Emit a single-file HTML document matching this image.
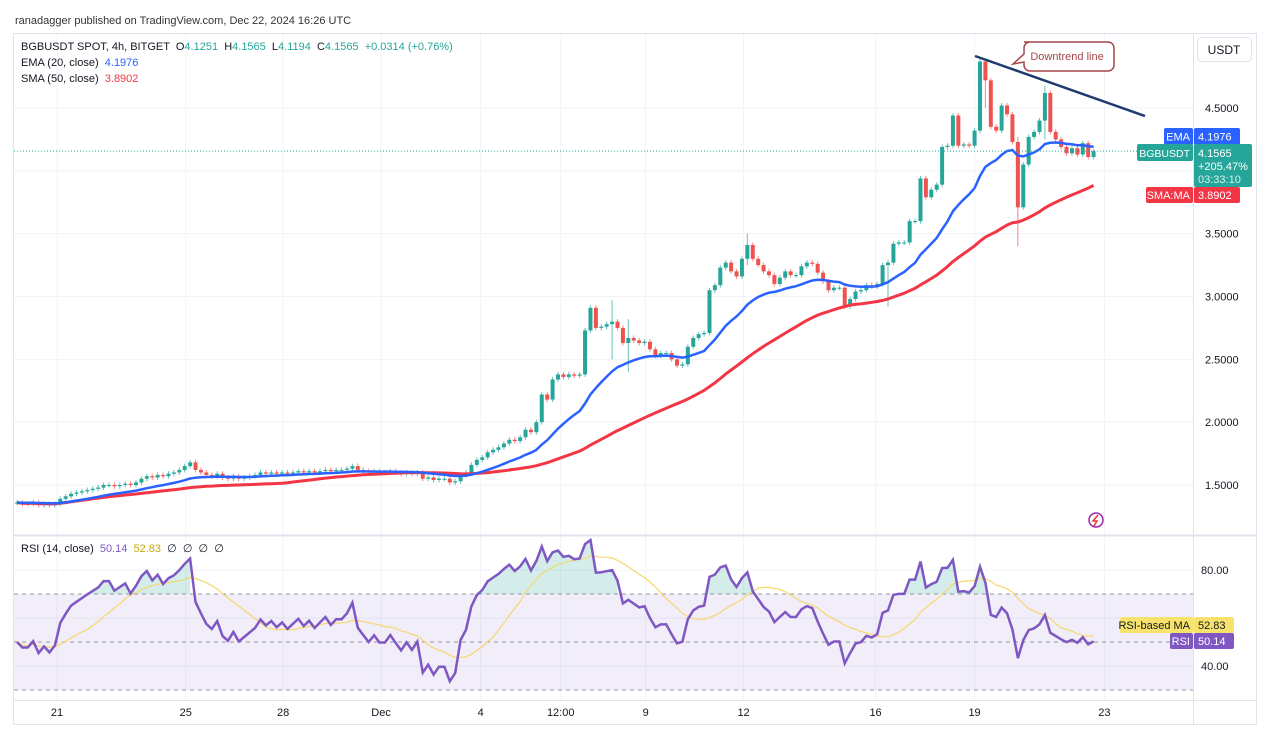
<!DOCTYPE html>
<html><head><meta charset="utf-8"><style>
body{margin:0;width:1268px;height:730px;background:#fff;overflow:hidden;font-family:"Liberation Sans",sans-serif}
svg{position:absolute;left:0;top:0}
svg text{white-space:pre}
</style></head><body>
<svg id="c" width="1268" height="730"></svg>
<script>
const closes=[1.36,1.35,1.35,1.36,1.34,1.35,1.34,1.35,
1.39,1.41,1.43,1.44,1.45,1.46,1.47,1.48,
1.50,1.50,1.49,1.50,1.51,1.50,1.52,1.55,
1.57,1.56,1.58,1.57,1.59,1.60,1.62,1.65,
1.68,1.62,1.60,1.58,1.57,1.59,1.56,1.55,
1.57,1.55,1.56,1.57,1.58,1.60,1.59,1.60,
1.59,1.60,1.59,1.60,1.61,1.60,1.61,1.60,
1.61,1.62,1.61,1.62,1.62,1.63,1.65,1.62,
1.61,1.60,1.61,1.60,1.60,1.61,1.60,1.59,
1.60,1.59,1.60,1.55,1.56,1.54,1.55,1.55,
1.52,1.53,1.58,1.60,1.66,1.70,1.72,1.76,
1.78,1.80,1.83,1.86,1.85,1.88,1.94,1.92,
2.00,2.22,2.18,2.34,2.38,2.36,2.38,2.37,
2.38,2.73,2.91,2.75,2.76,2.78,2.80,2.75,
2.63,2.67,2.65,2.63,2.64,2.58,2.53,2.55,
2.55,2.50,2.45,2.46,2.60,2.67,2.70,2.71,
3.05,3.09,3.23,3.27,3.20,3.16,3.30,3.41,
3.30,3.25,3.20,3.17,3.10,3.15,3.20,3.17,
3.17,3.24,3.27,3.26,3.19,3.12,3.05,3.07,
3.07,2.92,2.98,3.04,3.05,3.09,3.08,3.10,
3.25,3.27,3.42,3.43,3.43,3.60,3.60,3.94,
3.79,3.85,3.89,4.19,4.20,4.44,4.20,4.21,
4.20,4.32,4.87,4.72,4.35,4.32,4.52,4.45,
4.23,3.71,4.05,4.27,4.31,4.40,4.62,4.31,
4.25,4.19,4.14,4.18,4.13,4.22,4.11,4.1565];
const wickIdx=[178,179,185,190,135,110,113,161];
const wickHigh=[4.90,4.88,4.27,4.68,3.50,2.97,2.82,3.11];
const wickLow=[4.30,4.50,3.40,4.25,3.25,2.50,2.40,2.92];
const priceTicks=[4.5,3.5,3.0,2.5,2.0,1.5];
const priceTickLabels=["4.5000","3.5000","3.0000","2.5000","2.0000","1.5000"];
const gridPrices=[4.5,4.0,3.5,3.0,2.5,2.0,1.5];
const timeLabels=["21","25","28","Dec","4","12:00","9","12","16","19","23"];
const timeIdx=[7.4,31.2,49.2,67.3,85.7,100.5,116.2,134.3,158.7,177,201];
const rsiTicks=[80,40];

const S='http://www.w3.org/2000/svg',svg=document.getElementById('c');
function el(t,a,p){const e=document.createElementNS(S,t);for(const k in a)e.setAttribute(k,a[k]);(p||svg).appendChild(e);return e}
const X0=17,DX=5.41;
const xs=i=>X0+i*DX;
const yp=p=>108+(4.5-p)*125.67;
const yr=v=>570+(80-v)*2.4;

let r=el('rect',{x:13.5,y:33.5,width:1243,height:691,fill:'#fff',stroke:'#e0e3eb'});

gridPrices.forEach(p=>{let l=el('line',{x1:14,x2:1193,y1:yp(p),y2:yp(p),stroke:'#f0f3fa'});});
[80,60,40].forEach(v=>{let l=el('line',{x1:14,x2:1193,y1:yr(v),y2:yr(v),stroke:'#f0f3fa'});});
timeIdx.forEach(i=>{let l=el('line',{x1:xs(i),x2:xs(i),y1:34,y2:700,stroke:'#f0f3fa'});});
el('line',{x1:1193.5,x2:1193.5,y1:34,y2:725,stroke:'#e0e3eb'});
el('line',{x1:14,x2:1257,y1:535.5,y2:535.5,stroke:'#e0e3eb',"stroke-width":2});
el('line',{x1:14,x2:1257,y1:700.5,y2:700.5,stroke:'#e0e3eb'});

const g=el('g',{});
closes.forEach((c,i)=>{
 const o=i?closes[i-1]:c;
 let hi=Math.max(o,c)+0.02,lo=Math.min(o,c)-0.02;
 const k=wickIdx.indexOf(i);if(k>=0){hi=Math.max(hi,wickHigh[k]);lo=Math.min(lo,wickLow[k]);}
 const col=c>=o?'#26a69a':'#ef5350',x=xs(i);
 let w=el('line',{x1:x,x2:x,y1:yp(hi),y2:yp(lo),stroke:col,'stroke-width':1,opacity:0.7},g);
 
 const t=yp(Math.max(o,c)),b=yp(Math.min(o,c));
 let bd=el('rect',{x:x-2,y:t,width:4,height:Math.max(1,b-t),fill:col},g);
 
});
const ema=[];let k2=2/21;closes.forEach((c,i)=>ema.push(i?c*k2+ema[i-1]*(1-k2):c));
const sma=closes.map((c,i)=>{const s=closes.slice(Math.max(0,i-49),i+1);return s.reduce((a,b)=>a+b,0)/s.length});
function path(arr,fy){return arr.map((v,i)=>(i?'L':'M')+xs(i).toFixed(1)+','+fy(v).toFixed(1)).join('')}
let sm=el('path',{d:path(sma,yp),fill:'none',stroke:'#f23645','stroke-width':3});
let em=el('path',{d:path(ema,yp),fill:'none',stroke:'#2962ff','stroke-width':2.5});
let dl=el('line',{x1:14,x2:1193,y1:yp(4.1565),y2:yp(4.1565),stroke:'#26a69a','stroke-dasharray':'1 2'});

let tl=el('line',{x1:975,y1:56,x2:1145,y2:116,stroke:'#1e3a6e','stroke-width':2.5});
let cb=el('path',{d:'M1024,42 H1108 a6,6 0 0 1 6,6 V65 a6,6 0 0 1 -6,6 H1030 a6,6 0 0 1 -6,-6 V62 L1013,64 L1024,54 V48 a6,6 0 0 1 6,-6 Z',fill:'#fff',stroke:'#a5464a','stroke-width':1.5});
let ct=el('text',{x:1067,y:60,'font-size':11,fill:'#a5464a','text-anchor':'middle'});ct.textContent='Downtrend line';

priceTicks.forEach((p,i)=>{let t=el('text',{x:1205,y:yp(p)+4,'font-size':11,fill:'#131722'});t.textContent=priceTickLabels[i];});
let ub=el('rect',{x:1197.5,y:37.5,width:54,height:24,rx:4,fill:'#fff',stroke:'#e0e3eb'});
let ut=el('text',{x:1224,y:54,'font-size':12,fill:'#131722','text-anchor':'middle'});ut.textContent='USDT';

function tag(x,y,w,h,fill,txt,name,tc,anchor){let b=el('rect',{x,y,width:w,height:h,rx:2,fill});
 let t=el('text',{x:anchor==='end'?x+w-3:x+4,y:y+h/2+4,'font-size':11,fill:tc||'#fff','text-anchor':anchor||'start'});t.textContent=txt;}
tag(1164,128,29,17,'#2962ff','EMA','ema-tag',null,'end');
tag(1194,128,46,17,'#2962ff','4.1976','ema-value');
let stg=el('rect',{x:1137,y:144,width:56,height:17,rx:2,fill:'#26a69a'});
let stt=el('text',{x:1190,y:157,'font-size':10.5,fill:'#fff','text-anchor':'end'});stt.textContent='BGBUSDT';
let sb=el('rect',{x:1194,y:144,width:58,height:43,rx:2,fill:'#26a69a'});
[['4.1565',157,'#fff'],['+205.47%',170,'#fff'],['03:33:10',183,'#d6f0ec']].forEach(a=>{let t=el('text',{x:1198,y:a[1],'font-size':11,fill:a[2]});t.textContent=a[0];});
tag(1146,187,47,16,'#f23645','SMA:MA','sma-tag',null,'end');
tag(1194,187,46,16,'#f23645','3.8902','sma-value');

let li=el('circle',{cx:1096,cy:520,r:7,fill:'#fff',stroke:'#9c27b0','stroke-width':1.5});
el('path',{d:'M1098,515 L1093,521 H1097 L1094,526',fill:'none',stroke:'#e53935','stroke-width':1.5});

// RSI (Wilder, seeded with small symmetric averages)
const rsi=[];let ag=0.008,al=0.008;
closes.forEach((c,i)=>{if(!i){rsi.push(50);return}const d=c-closes[i-1];
 ag=(ag*13+Math.max(d,0))/14;al=(al*13+Math.max(-d,0))/14;
 rsi.push(al===0?100:100-100/(1+ag/al));});
const rma=rsi.map((v,i)=>{const s=rsi.slice(Math.max(0,i-13),i+1);return s.reduce((a,b)=>a+b,0)/s.length});
let band=el('rect',{x:14,y:yr(70),width:1179,height:yr(30)-yr(70),fill:'#7e57c2','fill-opacity':0.1});
[70,50,30].forEach(v=>{let l=el('line',{x1:14,x2:1193,y1:yr(v),y2:yr(v),stroke:'#9598a1','stroke-dasharray':'4 4'});});
let ob='';rsi.forEach((v,i)=>{if(v>70&&i>0){ob+=`M${xs(i-1)},${yr(Math.max(70,rsi[i-1]))}L${xs(i)},${yr(v)}L${xs(i)},${yr(70)}L${xs(i-1)},${yr(70)}Z`}});
let of=el('path',{d:ob,fill:'#26a69a','fill-opacity':0.2});
let rm=el('path',{d:path(rma,yr),fill:'none',stroke:'#f5d76e','stroke-width':1.2});
let rl=el('path',{d:path(rsi,yr),fill:'none',stroke:'#7e57c2','stroke-width':2.5});
rsiTicks.forEach(v=>{let t=el('text',{x:1201,y:yr(v)+4,'font-size':11,fill:'#131722'});t.textContent=v.toFixed(2);});
tag(1120,617,73,16,'#f7e36b','RSI-based MA','rsi-ma-tag','#131722','end');
tag(1194,617,40,16,'#f7e36b','52.83','rsi-ma-value','#131722');
tag(1170,633,23,16,'#7e57c2','RSI','rsi-tag',null,'end');
tag(1194,633,40,16,'#7e57c2','50.14','rsi-value');

timeLabels.forEach((s,i)=>{let t=el('text',{x:xs(timeIdx[i]),y:716,'font-size':11,fill:'#131722','text-anchor':'middle'});t.textContent=s;});

function txt(x,y,parts,name){let t=el('text',{x,y,'font-size':11,fill:'#131722'});
 parts.forEach(p=>{let s=el('tspan',{fill:p[1]||'#131722'},t);s.textContent=p[0]});}
txt(15,24,[['ranadagger published on TradingView.com, Dec 22, 2024 16:26 UTC','#333']],'publisher-header');
const G='#26a69a';
txt(21,50,[['BGBUSDT SPOT, 4h, BITGET  O'],['4.1251',G],['  H'],['4.1565',G],['  L'],['4.1194',G],['  C'],['4.1565',G],['  +0.0314 (+0.76%)',G]],'symbol-legend');
txt(21,66,[['EMA (20, close)  '],['4.1976','#2962ff']],'ema-legend');
txt(21,82,[['SMA (50, close)  '],['3.8902','#f23645']],'sma-legend');
txt(21,552,[['RSI (14, close)  '],['50.14','#7e57c2'],['  '],['52.83','#c9a800'],['  ∅  ∅  ∅  ∅']],'rsi-legend');
</script></body></html>
